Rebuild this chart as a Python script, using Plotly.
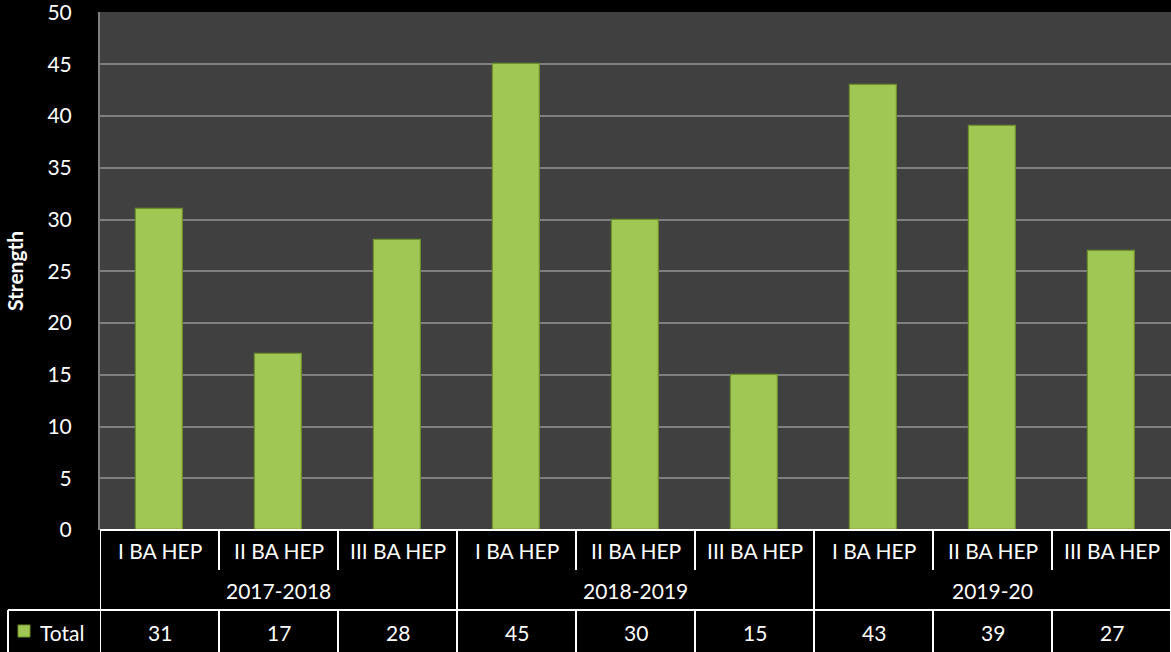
import plotly.graph_objects as go

categories = ["I BA HEP", "II BA HEP", "III BA HEP",
              "I BA HEP", "II BA HEP", "III BA HEP",
              "I BA HEP", "II BA HEP", "III BA HEP"]
groups = ["2017-2018", "2018-2019", "2019-20"]
group_sizes = [3, 3, 3]
totals = [31, 17, 28, 45, 30, 15, 43, 39, 27]
series_name = "Total"
y_ticks = [0, 5, 10, 15, 20, 25, 30, 35, 40, 45, 50]

FONT = "Lato"
FS = 21
BAR_COLOR = "#A0C653"
W, H = 1171, 652
ML, MR, MT, MB = 100, 0, 12, 122
plot_h = H - MT - MB
plot_w = W - ML - MR

def py(px_below):
    # paper y for a pixel offset below the x-axis line
    return -px_below / plot_h

def px(px_left):
    # paper x for a pixel offset left of the plot area
    return -px_left / plot_w

xs = list(range(len(categories)))

fig = go.Figure()
fig.add_trace(go.Bar(
    x=xs, y=totals, name=series_name, width=0.395,
    marker=dict(color=BAR_COLOR, line=dict(color="#6F8F2C", width=1.2)),
    showlegend=False,
))

shapes = []
annotations = []
line_style = dict(color="white", width=2)
tfont = dict(color="white", size=FS, family=FONT)

# category row
for i, c in enumerate(categories):
    annotations.append(dict(x=i, y=py(20), xref="x", yref="paper", text=c,
                            showarrow=False, font=tfont,
                            xanchor="center", yanchor="middle"))
bounds = [-0.5]
for s in group_sizes:
    bounds.append(bounds[-1] + s)
for i in range(1, len(categories)):
    xb = i - 0.5
    if xb in bounds:
        continue
    shapes.append(dict(type="line", xref="x", yref="paper", x0=xb, x1=xb,
                       y0=0, y1=py(40), line=line_style))
for xb in bounds:
    shapes.append(dict(type="line", xref="x", yref="paper", x0=xb, x1=xb,
                       y0=0, y1=py(80), line=line_style))
shapes.append(dict(type="line", xref="paper", yref="paper", x0=0, x1=1,
                   y0=0, y1=0, line=line_style))
# group labels
start = 0
for g, s in zip(groups, group_sizes):
    annotations.append(dict(x=start + (s - 1) / 2, y=py(60), xref="x", yref="paper", text=g,
                            showarrow=False, font=tfont,
                            xanchor="center", yanchor="middle"))
    start += s

# data table row
shapes.append(dict(type="line", xref="paper", yref="paper", x0=px(92), x1=1,
                   y0=py(80), y1=py(80), line=line_style))
shapes.append(dict(type="line", xref="paper", yref="paper", x0=px(92), x1=px(92),
                   y0=py(80), y1=py(130), line=line_style))
for i in range(len(categories) + 1):
    xb = i - 0.5
    shapes.append(dict(type="line", xref="x", yref="paper", x0=xb, x1=xb,
                       y0=py(80), y1=py(130), line=line_style))
for i, v in enumerate(totals):
    annotations.append(dict(x=i, y=py(102), xref="x", yref="paper", text=str(v),
                            showarrow=False, font=tfont,
                            xanchor="center", yanchor="middle"))
# legend key
shapes.append(dict(type="rect", xref="paper", yref="paper", x0=px(82), x1=px(70),
                   y0=py(95), y1=py(107), fillcolor=BAR_COLOR,
                   line=dict(color="#6F8F2C", width=1)))
annotations.append(dict(x=px(62), y=py(102), xref="paper", yref="paper",
                        text=series_name, showarrow=False, font=tfont,
                        xanchor="left", yanchor="middle"))

# y-axis title
annotations.append(dict(x=px(86), y=0.5, xref="paper", yref="paper", text="<b>Strength</b>",
                        textangle=-90, showarrow=False,
                        font=dict(color="white", size=21, family=FONT),
                        xanchor="center", yanchor="middle"))

fig.update_layout(
    width=W, height=H,
    margin=dict(l=ML, r=MR, t=MT, b=MB, autoexpand=False),
    paper_bgcolor="black", plot_bgcolor="#404040",
    font=dict(family=FONT, color="white", size=FS),
    shapes=shapes, annotations=annotations,
    bargap=0,
)
fig.update_xaxes(range=[-0.5, len(categories) - 0.5], showticklabels=False,
                 showgrid=False, zeroline=False, showline=False, ticks="", fixedrange=True)
fig.update_yaxes(range=[0, 50.05], tickvals=y_ticks, showgrid=True, gridcolor="#7F7F7F",
                 gridwidth=2, zeroline=False, showline=True, linecolor="#7F7F7F", linewidth=2,
                 ticks="", ticklabelstandoff=22, ticklabeloverflow="allow",
                 tickfont=dict(color="white", size=FS, family=FONT), fixedrange=True)

fig.write_html("out.html", config={"displayModeBar": False},
               post_script="document.body.style.margin='0px';document.body.style.background='black';")
